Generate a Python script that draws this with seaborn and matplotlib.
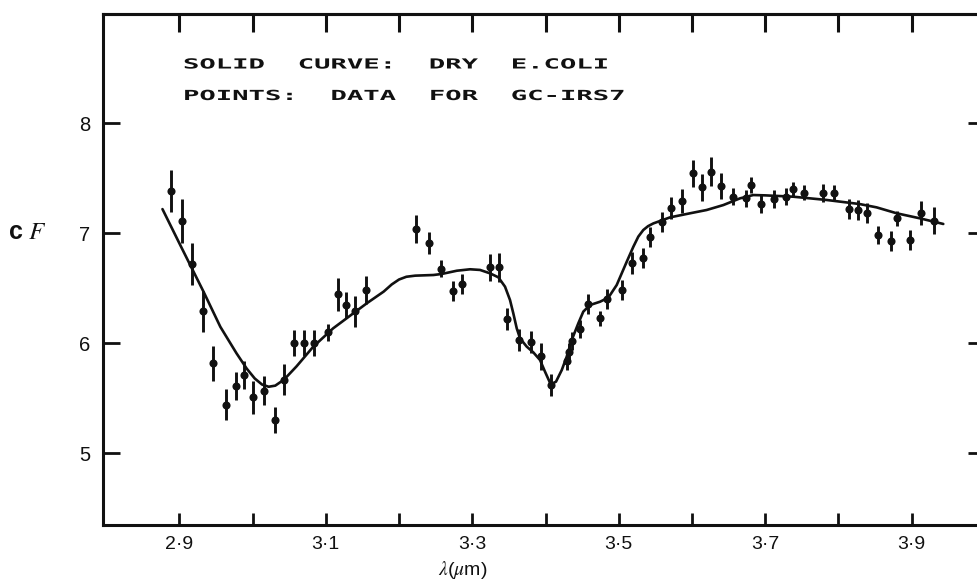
import matplotlib
matplotlib.use("Agg")
import matplotlib.pyplot as plt
import seaborn as sns
from matplotlib import patheffects
from matplotlib.transforms import Affine2D

# --- observed spectrum (points with error bars) ---
wavelength = [2.889, 2.903, 2.918, 2.933, 2.946, 2.964, 2.977, 2.988, 3.000, 3.015,
              3.030, 3.043, 3.056, 3.070, 3.084, 3.103, 3.117, 3.127, 3.140, 3.155,
              3.223, 3.241, 3.257, 3.273, 3.286, 3.324, 3.337, 3.348, 3.364, 3.380,
              3.394, 3.407, 3.429, 3.432, 3.436, 3.447, 3.4585, 3.475, 3.484, 3.504,
              3.518, 3.533, 3.542, 3.559, 3.571, 3.586, 3.601, 3.614, 3.626, 3.639,
              3.656, 3.674, 3.680, 3.694, 3.712, 3.728, 3.738, 3.753, 3.779, 3.794,
              3.815, 3.827, 3.839, 3.854, 3.872, 3.880, 3.897, 3.913, 3.931]
flux = [7.385, 7.11, 6.72, 6.29, 5.82, 5.44, 5.61, 5.71, 5.51, 5.57,
        5.30, 5.67, 6.00, 6.00, 6.00, 6.10, 6.445, 6.35, 6.29, 6.485,
        7.04, 6.915, 6.68, 6.475, 6.54, 6.69, 6.69, 6.22, 6.03, 6.015,
        5.88, 5.62, 5.84, 5.92, 6.02, 6.13, 6.36, 6.227, 6.40, 6.485,
        6.727, 6.773, 6.97, 7.106, 7.227, 7.297, 7.545, 7.418, 7.56, 7.43,
        7.333, 7.318, 7.439, 7.264, 7.31, 7.333, 7.40, 7.369, 7.369, 7.369,
        7.218, 7.212, 7.182, 6.985, 6.93, 7.136, 6.939, 7.188, 7.115]
flux_err = [0.19, 0.20, 0.19, 0.19, 0.16, 0.14, 0.13, 0.13, 0.15, 0.13,
            0.12, 0.14, 0.12, 0.12, 0.12, 0.08, 0.15, 0.12, 0.14, 0.13,
            0.13, 0.10, 0.08, 0.09, 0.09, 0.12, 0.13, 0.10, 0.10, 0.10,
            0.12, 0.10, 0.08, 0.08, 0.08, 0.08, 0.09, 0.07, 0.09, 0.09,
            0.10, 0.09, 0.09, 0.09, 0.10, 0.11, 0.12, 0.12, 0.13, 0.12,
            0.08, 0.08, 0.07, 0.08, 0.08, 0.08, 0.07, 0.07, 0.08, 0.07,
            0.09, 0.09, 0.09, 0.08, 0.09, 0.07, 0.09, 0.11, 0.12]

# --- model curve: dry E. coli ---
curve_wl = [2.877, 2.903, 2.933, 2.956, 2.978, 2.992, 3.003, 3.013, 3.022, 3.031,
            3.043, 3.060, 3.083, 3.110, 3.133, 3.156, 3.179, 3.190, 3.200, 3.210,
            3.222, 3.247, 3.258, 3.279, 3.297, 3.3106, 3.3243, 3.3356, 3.3447, 3.3515,
            3.356, 3.3607, 3.3652, 3.3743, 3.3833, 3.3925, 3.3993, 3.4071, 3.4143, 3.4222,
            3.4289, 3.4358, 3.4448, 3.4516, 3.4608, 3.4744, 3.4858, 3.4972, 3.5109, 3.520,
            3.5267, 3.5335, 3.540, 3.5472, 3.570, 3.5973, 3.620, 3.6428, 3.6656, 3.6837,
            3.700, 3.738, 3.784, 3.829, 3.852, 3.8795, 3.9113, 3.9431]
curve_flux = [7.22, 6.87, 6.47, 6.15, 5.91, 5.77, 5.68, 5.625, 5.605, 5.615,
              5.67, 5.79, 5.97, 6.136, 6.25, 6.364, 6.47, 6.535, 6.58, 6.605,
              6.615, 6.621, 6.63, 6.66, 6.673, 6.667, 6.636, 6.60, 6.515, 6.394,
              6.273, 6.136, 6.045, 5.97, 5.918, 5.848, 5.742, 5.627, 5.651, 5.757,
              5.878, 6.03, 6.182, 6.288, 6.348, 6.378, 6.415, 6.53, 6.742, 6.879,
              6.97, 7.03, 7.065, 7.09, 7.145, 7.182, 7.212, 7.257, 7.318, 7.348,
              7.345, 7.333, 7.303, 7.266, 7.236, 7.182, 7.136, 7.085]

xtick_pos = [2.9, 3.0, 3.1, 3.2, 3.3, 3.4, 3.5, 3.6, 3.7, 3.8, 3.9]
xtick_labels = ["2·9", "", "3·1", "", "3·3", "", "3·5", "", "3·7", "", "3·9"]
ytick_pos = [5, 6, 7, 8]
ytick_labels = ["5", "6", "7", "8"]

ink = "#111111"

sns.set_theme(style="ticks")
plt.rcParams["font.family"] = ["Liberation Sans", "DejaVu Sans"]
plt.rcParams["mathtext.fontset"] = "stix"

fig = plt.figure(figsize=(9.77, 5.85), dpi=100)
fig.patch.set_facecolor("white")
ax = fig.add_axes([103 / 977, 1 - 525 / 585, 875 / 977, 511 / 585])
ax.set_facecolor("white")

sns.lineplot(x=curve_wl, y=curve_flux, ax=ax, color=ink, linewidth=1.9,
             sort=False, estimator=None)
ax.errorbar(wavelength, flux, yerr=flux_err, fmt="none", ecolor=ink,
            elinewidth=2.1, capsize=0)
sns.scatterplot(x=wavelength, y=flux, ax=ax, color=ink, s=34, linewidth=0)

ax.set_xlim(2.7958, 3.9905)
ax.set_ylim(4.348, 8.994)

ax.set_xticks(xtick_pos)
ax.set_xticklabels(xtick_labels)
ax.set_yticks(ytick_pos)
ax.set_yticklabels(ytick_labels)
ax.tick_params(axis="x", direction="in", length=9, width=2.0, colors=ink,
               labelsize=14, pad=8)
ax.tick_params(axis="y", direction="in", length=12, width=2.0, colors=ink,
               labelsize=14.5, pad=9)
for side in ["left", "bottom", "top", "right"]:
    ax.spines[side].set_linewidth(2.2)
    ax.spines[side].set_color(ink)

top = ax.secondary_xaxis("top")
top.set_xticks(xtick_pos)
top.tick_params(direction="in", length=13, width=2.2, colors=ink, labeltop=False)
top.spines["top"].set_linewidth(2.2)

right = ax.secondary_yaxis("right")
right.set_yticks(ytick_pos)
right.tick_params(direction="in", length=7, width=2.0, colors=ink, labelright=False)

ax.set_xlabel(r"$\lambda$($\mu$m)", fontsize=14, color=ink, va="center")
ax.xaxis.set_label_coords(0.411, -0.088)
ax.set_ylabel("")
fig.text(27 / 977, 1 - 232 / 585, r"c $F$", fontsize=18, color=ink,
         ha="center", va="center", weight="bold")


class StretchX(patheffects.AbstractPathEffect):
    """Widen glyphs horizontally, like an extended typewriter face."""

    def __init__(self, sx):
        super().__init__()
        self.sx = sx

    def draw_path(self, renderer, gc, tpath, affine, rgbFace=None):
        renderer.draw_path(gc, tpath, Affine2D().scale(self.sx, 1.0) + affine, rgbFace)


note_style = dict(fontsize=10, color=ink, ha="left", va="baseline",
                  family="DejaVu Sans Mono", weight="bold",
                  path_effects=[StretchX(1.96)])
fig.text(183 / 977, 1 - 68.5 / 585, "SOLID  CURVE:  DRY  E.COLI", **note_style)
fig.text(183 / 977, 1 - 100 / 585, "POINTS:  DATA  FOR  GC-IRS7", **note_style)

fig.savefig("out.png", dpi=100, facecolor="white")
